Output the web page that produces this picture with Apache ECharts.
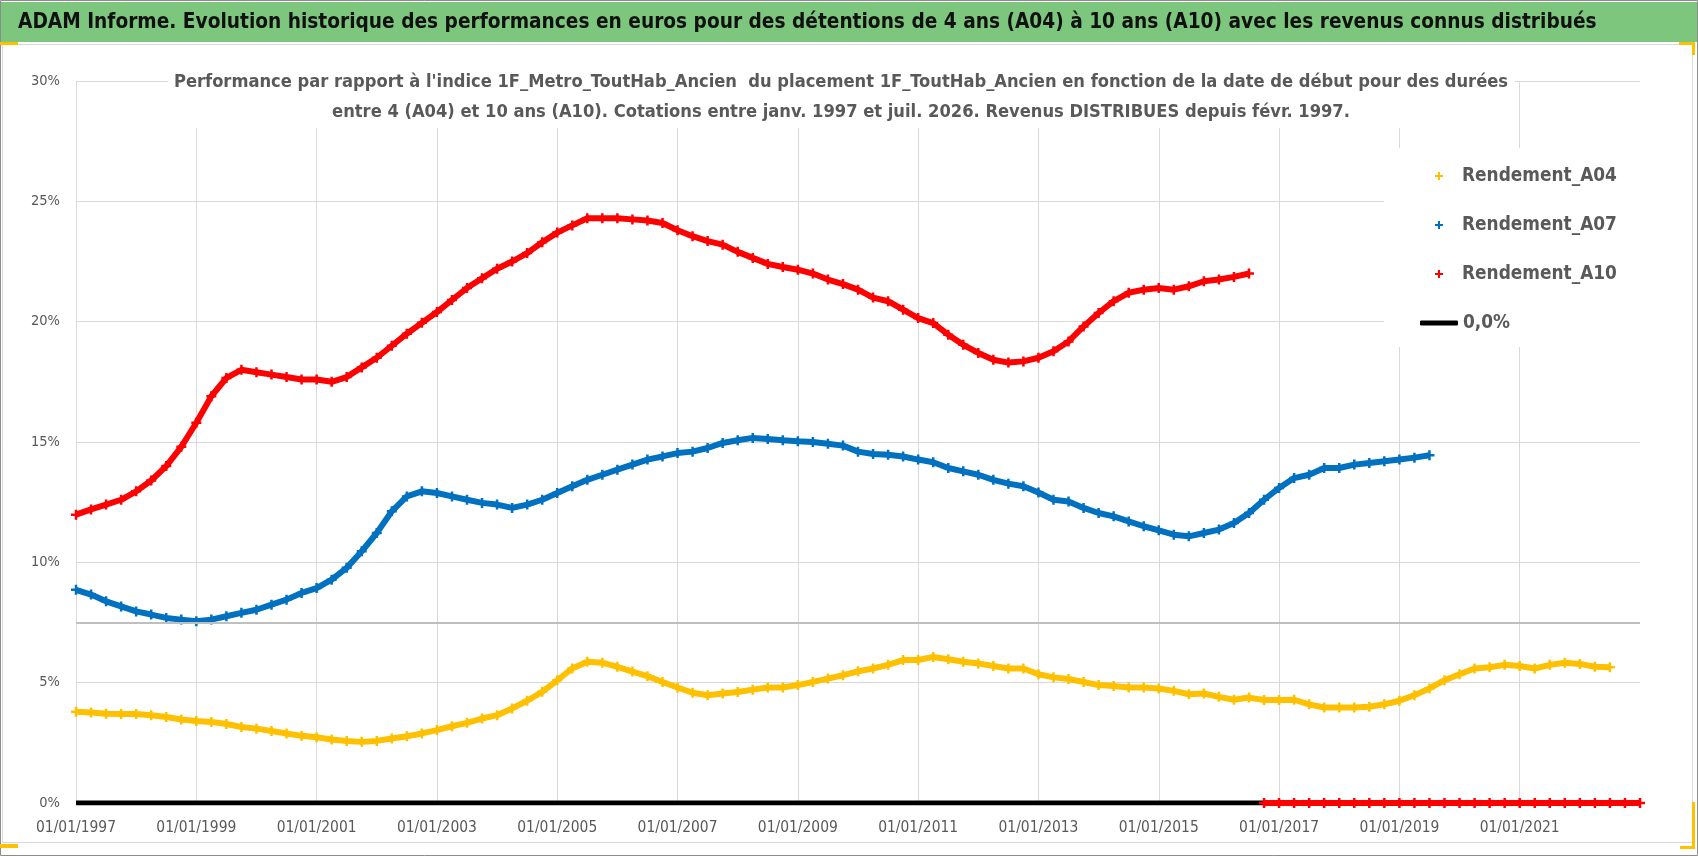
<!DOCTYPE html>
<html>
<head>
<meta charset="utf-8">
<title>ADAM Informe</title>
<script src="https://cdn.jsdelivr.net/npm/echarts@6/dist/echarts.min.js"></script>
<style>
  html, body { margin: 0; padding: 0; background: #fff; }
  #chart { width: 1698px; height: 856px; }
</style>
</head>
<body>
<div id="chart"></div>
<script>
// textes
const titre = "ADAM Informe. Evolution historique des performances en euros pour des détentions de 4 ans (A04) à 10 ans (A10) avec les revenus connus distribués";
const sousTitre1 = "Performance par rapport à l'indice 1F_Metro_ToutHab_Ancien  du placement 1F_ToutHab_Ancien en fonction de la date de début pour des durées";
const sousTitre2 = "entre 4 (A04) et 10 ans (A10). Cotations entre janv. 1997 et juil. 2026. Revenus DISTRIBUES depuis févr. 1997.";

// axe des dates : années décimales, un point par trimestre
const debut = 1997;
const pas = 0.25;
const anneesTicks = [1997, 1999, 2001, 2003, 2005, 2007, 2009, 2011, 2013, 2015, 2017, 2019, 2021, 2023];

// Rendement_A04 (%), 1997 T1 -> 2022 T3
const rendA04 = [
  3.79, 3.76, 3.71, 3.70,
  3.70, 3.65, 3.57, 3.47,
  3.41, 3.37, 3.28, 3.16,
  3.09, 2.99, 2.89, 2.79,
  2.73, 2.64, 2.58, 2.54,
  2.58, 2.68, 2.77, 2.89,
  3.03, 3.19, 3.33, 3.51,
  3.65, 3.93, 4.25, 4.62,
  5.10, 5.59, 5.87, 5.83,
  5.66, 5.46, 5.27, 5.03,
  4.80, 4.58, 4.48, 4.55,
  4.61, 4.71, 4.80, 4.80,
  4.90, 5.03, 5.17, 5.31,
  5.47, 5.59, 5.74, 5.94,
  5.94, 6.07, 5.97, 5.87,
  5.80, 5.69, 5.59, 5.59,
  5.35, 5.22, 5.15, 5.03,
  4.90, 4.86, 4.80, 4.80,
  4.76, 4.66, 4.52, 4.55,
  4.41, 4.29, 4.38, 4.28,
  4.28, 4.29, 4.10, 3.97,
  3.97, 3.97, 4.00, 4.10,
  4.25, 4.48, 4.76, 5.10,
  5.35, 5.59, 5.64, 5.74,
  5.69, 5.59, 5.74, 5.83,
  5.78, 5.66, 5.64
];

// Rendement_A07 (%), 1997 T1 -> 2019 T3
const rendA07 = [
  8.86, 8.66, 8.38, 8.17,
  7.96, 7.83, 7.69, 7.62,
  7.55, 7.62, 7.76, 7.90,
  8.03, 8.24, 8.45, 8.73,
  8.93, 9.28, 9.77, 10.46,
  11.22, 12.12, 12.74, 12.95,
  12.88, 12.74, 12.60, 12.47,
  12.40, 12.26, 12.40, 12.60,
  12.88, 13.16, 13.43, 13.64,
  13.85, 14.06, 14.27, 14.40,
  14.54, 14.60, 14.75, 14.96,
  15.07, 15.17, 15.12, 15.07,
  15.03, 15.00, 14.93, 14.85,
  14.60, 14.50, 14.47, 14.40,
  14.27, 14.16, 13.92, 13.78,
  13.64, 13.43, 13.27, 13.16,
  12.90, 12.60, 12.53, 12.26,
  12.05, 11.91, 11.70, 11.50,
  11.33, 11.15, 11.08, 11.22,
  11.36, 11.63, 12.05, 12.60,
  13.09, 13.50, 13.64, 13.92,
  13.92, 14.06, 14.13, 14.20,
  14.27, 14.35, 14.45
];

// Rendement_A10 (%), 1997 T1 -> 2016 T3
const rendA10 = [
  11.98, 12.20, 12.40, 12.60,
  12.95, 13.40, 14.00, 14.80,
  15.80, 16.90, 17.66, 18.00,
  17.90, 17.80, 17.70, 17.60,
  17.60, 17.50, 17.70, 18.10,
  18.50, 19.00, 19.50, 19.95,
  20.40, 20.90, 21.40, 21.80,
  22.20, 22.50, 22.85, 23.30,
  23.70, 24.00, 24.30, 24.30,
  24.30, 24.25, 24.20, 24.10,
  23.80, 23.55, 23.35, 23.20,
  22.90, 22.65, 22.40, 22.27,
  22.16, 22.00, 21.75, 21.56,
  21.33, 21.00, 20.85, 20.50,
  20.15, 19.94, 19.46, 19.04,
  18.70, 18.42, 18.30, 18.35,
  18.50, 18.77, 19.18, 19.80,
  20.36, 20.85, 21.20, 21.33,
  21.40, 21.33, 21.47, 21.68,
  21.75, 21.86, 22.00
];

// A10 après la dernière date de départ possible : valeurs nulles, 2016 T4 -> 2023 T1
const debutQueueA10 = 2016.75;
const queueA10 = [
  0,
  0, 0, 0, 0,
  0, 0, 0, 0,
  0, 0, 0, 0,
  0, 0, 0, 0,
  0, 0, 0, 0,
  0, 0, 0, 0,
  0
];

// ligne 0,0%
const ligneZero = [[1997, 0], [2023, 0]];

const GRIS = '#595959';
const FONT = "'Liberation Sans Narrow', 'DejaVu Sans Condensed', 'Open Sans', sans-serif";
const PLUS = 'path://M3,0H5V3H8V5H5V8H3V5H0V3H3Z';

// taille de police ajustée sur la largeur mesurée dans l'image
const ctx = document.createElement('canvas').getContext('2d');
function taille(texte, poids, largeur, base) {
  ctx.font = poids + ' ' + base + 'px ' + FONT;
  return base * largeur / ctx.measureText(texte).width;
}
const fTitre = taille(titre, 'bold', 1580, 24);
const fSous = taille(sousTitre1, 'bold', 1335, 18);
const fLegende = taille('Rendement_A04', 'bold', 155, 22);
const fAxeX = taille('01/01/1997', 'normal', 80, 16);
const fAxeY = taille('30%', 'normal', 29, 15);

function points(valeurs, depart) {
  return valeurs.map((v, i) => [depart + i * pas, v]);
}

function serie(nom, couleur, data, largeur) {
  return {
    name: nom,
    type: 'line',
    data: data,
    symbol: PLUS,
    symbolSize: 10,
    itemStyle: { color: couleur },
    lineStyle: { color: couleur, width: largeur },
    emphasis: { disabled: true }
  };
}

const couleursGrille = anneesTicks.map((a, i) => i === anneesTicks.length - 1 ? 'rgba(0,0,0,0)' : '#D9D9D9');

const chart = echarts.init(document.getElementById('chart'));
chart.setOption({
  animation: false,
  backgroundColor: '#fff',
  grid: { left: 76, right: 58, top: 81, bottom: 53 },
  graphic: [
    { type: 'rect', z: 0, shape: { x: 0.5, y: 0.5, width: 1697, height: 855 }, style: { fill: '#fff', stroke: '#8C8C8C', lineWidth: 1 } },
    { type: 'rect', z: 0, shape: { x: 1, y: 2, width: 1696, height: 40 }, style: { fill: '#7DC67D' } },
    { type: 'rect', z: 0, shape: { x: 2.5, y: 44.5, width: 1690, height: 798 }, style: { fill: '#fff', stroke: '#D9D9D9', lineWidth: 1 } },
    { type: 'text', z: 10, style: { text: titre, x: 18, y: 23, textAlign: 'left', textVerticalAlign: 'middle', font: 'bold ' + fTitre.toFixed(2) + 'px ' + FONT, fill: '#111' } },
    { type: 'rect', z: 5, shape: { x: 168, y: 62, width: 1347, height: 66 }, style: { fill: '#fff' } },
    { type: 'text', z: 10, style: { text: sousTitre1 + '\n' + sousTitre2, x: 841, y: 97, textAlign: 'center', textVerticalAlign: 'middle', lineHeight: 30, font: 'bold ' + fSous.toFixed(2) + 'px ' + FONT, fill: GRIS } },
    // fond blanc de la légende
    { type: 'rect', z: 1, shape: { x: 1384, y: 148, width: 256, height: 199 }, style: { fill: '#fff' } },
    // poignées jaunes
    { type: 'rect', z: 10, shape: { x: 0, y: 42, width: 18, height: 3 }, style: { fill: '#FFC000' } },
    { type: 'rect', z: 10, shape: { x: 1679, y: 42, width: 16, height: 3 }, style: { fill: '#FFC000' } },
    { type: 'rect', z: 10, shape: { x: 1692, y: 42, width: 3, height: 13 }, style: { fill: '#FFC000' } },
    { type: 'rect', z: 10, shape: { x: 1692, y: 802, width: 3, height: 47 }, style: { fill: '#FFC000' } },
    { type: 'rect', z: 10, shape: { x: 1680, y: 846, width: 15, height: 3 }, style: { fill: '#FFC000' } },
    { type: 'rect', z: 10, shape: { x: 0, y: 844, width: 18, height: 4 }, style: { fill: '#FFC000' } }
  ],
  legend: [
    {
      z: 20,
      data: ['Rendement_A04', 'Rendement_A07', 'Rendement_A10'],
      orient: 'vertical',
      left: 1430,
      top: 159,
      icon: PLUS,
      itemWidth: 8,
      itemHeight: 8,
      itemGap: 25,
      selectedMode: false,
      textStyle: { color: GRIS, fontWeight: 'bold', fontSize: fLegende, fontFamily: FONT, lineHeight: 24, padding: [0, 0, 0, 14] }
    },
    {
      z: 20,
      data: ['0,0%'],
      left: 1415,
      top: 306,
      icon: 'roundRect',
      itemWidth: 38,
      itemHeight: 5,
      selectedMode: false,
      textStyle: { color: GRIS, fontWeight: 'bold', fontSize: fLegende, fontFamily: FONT, lineHeight: 24 }
    }
  ],
  xAxis: {
    type: 'value',
    min: 1997,
    max: 2023,
    interval: 2,
    axisLine: { show: false },
    axisTick: { show: false },
    axisLabel: {
      color: GRIS,
      fontSize: fAxeX,
      fontFamily: FONT,
      margin: 17,
      showMaxLabel: false,
      formatter: v => '01/01/' + v
    },
    splitLine: { show: true, lineStyle: { color: couleursGrille, width: 1 } }
  },
  yAxis: {
    type: 'value',
    min: 0,
    max: 30,
    interval: 5,
    axisLine: { show: false },
    axisTick: { show: false },
    axisLabel: { color: GRIS, fontSize: fAxeY, fontFamily: FONT, margin: 16, formatter: '{value}%' },
    splitLine: { lineStyle: { color: '#D9D9D9', width: 1 } }
  },
  series: [
    {
      name: '0,0%',
      type: 'line',
      data: ligneZero,
      symbol: 'none',
      itemStyle: { color: '#000' },
      lineStyle: { color: '#000', width: 5 },
      emphasis: { disabled: true },
      markLine: {
        silent: true,
        symbol: ['none', 'none'],
        label: { show: false },
        lineStyle: { color: '#BFBFBF', width: 2, type: 'solid' },
        data: [{ yAxis: 7.5 }]
      }
    },
    serie('Rendement_A04', '#FFC000', points(rendA04, debut), 6),
    serie('Rendement_A07', '#0070C0', points(rendA07, debut), 6),
    serie('Rendement_A10', '#FF0000', points(rendA10, debut), 6),
    serie('Rendement_A10', '#FF0000', points(queueA10, debutQueueA10), 6)
  ]
});
</script>
</body>
</html>
